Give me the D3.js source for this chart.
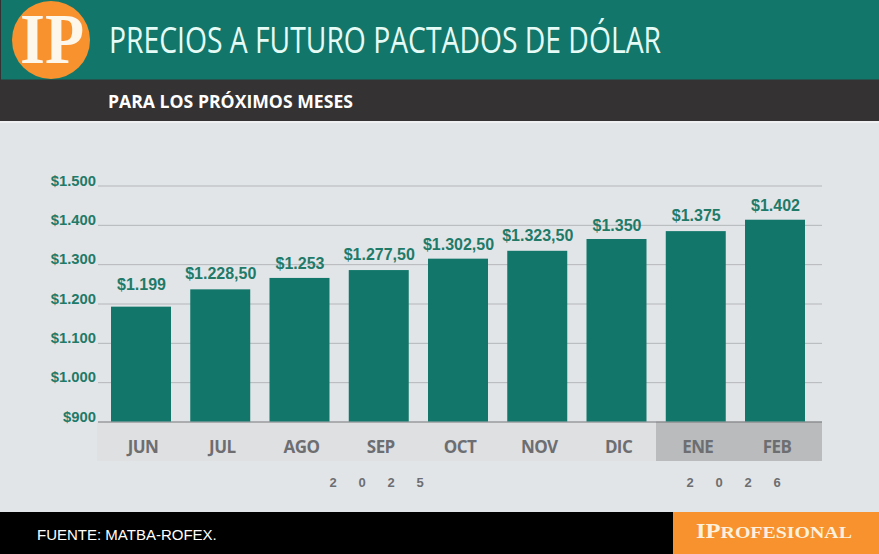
<!DOCTYPE html>
<html>
<head>
<meta charset="utf-8">
<script src="https://cdn.jsdelivr.net/npm/d3@7"></script>
<style>
  html, body { margin: 0; padding: 0; background: #e2e5e8; }
  svg { display: block; }
  .num { font-family: "Liberation Sans", sans-serif; font-weight: 700; }
  .domain { display: none; }
</style>
</head>
<body>
<svg id="chart" width="879" height="554"></svg>
<script>
const months = ['JUN', 'JUL', 'AGO', 'SEP', 'OCT', 'NOV', 'DIC', 'ENE', 'FEB']
// bar heights as drawn in the picture, they sit a bit off the printed prices
const barValues = [1192, 1236, 1265, 1285, 1314, 1334, 1364, 1384, 1413]
const prices = [1199, 1228.5, 1253, 1277.5, 1302.5, 1323.5, 1350, 1375, 1402]
const priceLabels = ['$1.199', '$1.228,50', '$1.253', '$1.277,50', '$1.302,50', '$1.323,50', '$1.350', '$1.375', '$1.402']
const yTicks = [900, 1000, 1100, 1200, 1300, 1400, 1500]
const yTickLabels = ['$900', '$1.000', '$1.100', '$1.200', '$1.300', '$1.400', '$1.500']
const yearDigits2025 = ['2', '0', '2', '5']
const yearDigits2026 = ['2', '0', '2', '6']

const teal = '#12776a'
const labelGreen = '#1f7a68'
const orange = '#f7922e'

const margin = {top: 185.5, bottom: 132.5, left: 111, right: 74}
const width = 879
const height = 554
const labelOffset = 13.5

const svg = d3.select('#chart')

const xScale = d3.scaleBand()
  .domain(months)
  .range([margin.left, width - margin.right])
  .paddingInner(0.243)
  .paddingOuter(0)

const yScale = d3.scaleLinear()
  .domain([900, 1500])
  .range([height - margin.bottom, margin.top])

//background
svg.append('rect').attr('width', width).attr('height', height).attr('fill', '#e2e5e8')

//header
svg.append('rect').attr('width', width).attr('height', 121).attr('fill', '#343233')
svg.append('rect').attr('x', 1).attr('width', width).attr('height', 79.5).attr('fill', teal)
svg.append('rect').attr('y', 121).attr('width', width).attr('height', 2).attr('fill', '#eef0f1')

svg.append('text')
  .attr('x', 109).attr('y', 53)
  .attr('textLength', 552).attr('lengthAdjust', 'spacingAndGlyphs')
  .attr('font-family', 'Open Sans').attr('font-weight', 400).attr('font-size', 36)
  .attr('fill', '#e6fbf6')
  .text('PRECIOS A FUTURO PACTADOS DE DÓLAR')

svg.append('text')
  .attr('x', 108).attr('y', 108)
  .attr('textLength', 245).attr('lengthAdjust', 'spacingAndGlyphs')
  .attr('font-family', 'Open Sans').attr('font-weight', 700).attr('font-size', 18)
  .attr('fill', '#fff')
  .text('PARA LOS PRÓXIMOS MESES')

//logo
svg.append('circle').attr('cx', 51).attr('cy', 40).attr('r', 39).attr('fill', orange)
svg.append('text')
  .attr('x', 20).attr('y', 63)
  .attr('textLength', 64).attr('lengthAdjust', 'spacingAndGlyphs')
  .attr('font-family', 'Liberation Serif').attr('font-weight', 700).attr('font-size', 72)
  .attr('fill', '#fdf6ea')
  .text('IP')

//month strip, 2026 part is darker
const stripBottom = 461
const baseY = yScale(900)
svg.append('rect')
  .attr('x', 97).attr('y', baseY).attr('width', 559).attr('height', stripBottom - baseY)
  .attr('fill', '#dee0e2')
svg.append('rect')
  .attr('x', 656).attr('y', baseY).attr('width', 166).attr('height', stripBottom - baseY)
  .attr('fill', '#b9bbbd')

//grid and y labels
const yAxis = svg.append('g')
  .attr('transform', 'translate(98,0)')
  .call(d3.axisLeft(yScale)
    .tickValues(yTicks)
    .tickSize(-724)
    .tickPadding(2)
    .tickFormat((d, i) => yTickLabels[i]))
yAxis.selectAll('.tick line').attr('stroke', d => d === 900 ? '#77787a' : '#b4b6b8')
yAxis.selectAll('.tick text')
  .attr('class', 'num')
  .attr('y', -5)
  .attr('font-size', 14.8)
  .attr('fill', labelGreen)

//bars
svg.append('g').selectAll('rect')
  .data(months)
  .join('rect')
  .attr('x', d => xScale(d))
  .attr('width', xScale.bandwidth())
  .attr('y', (d, i) => yScale(barValues[i]))
  .attr('height', (d, i) => baseY - yScale(barValues[i]))
  .attr('fill', teal)

//price labels follow the printed price, not the bar top
svg.append('g').selectAll('text')
  .data(months)
  .join('text')
  .attr('class', 'num')
  .attr('x', d => xScale(d) + xScale.bandwidth() / 2 + 0.5)
  .attr('y', (d, i) => yScale(prices[i]) - labelOffset)
  .attr('text-anchor', 'middle')
  .attr('font-size', 16)
  .attr('fill', labelGreen)
  .text((d, i) => priceLabels[i])

//months
const xAxis = svg.append('g')
  .attr('transform', `translate(2,${baseY})`)
  .call(d3.axisBottom(xScale).tickSize(0).tickPadding(19))
xAxis.selectAll('.tick text')
  .attr('font-family', 'Open Sans')
  .attr('font-weight', 700)
  .attr('font-size', 17)
  .attr('letter-spacing', -0.6)
  .attr('fill', '#6d6e71')

//years, each digit on its own slot
const drawYear = (digits, mid) => {
  const slot = d3.scalePoint().domain(d3.range(4)).range([mid - 43.5, mid + 43.5])
  svg.append('g').selectAll('text')
    .data(digits)
    .join('text')
    .attr('class', 'num')
    .attr('x', (d, i) => slot(i))
    .attr('y', 487)
    .attr('text-anchor', 'middle')
    .attr('font-size', 13)
    .attr('fill', '#6d6e71')
    .text(d => d)
}
drawYear(yearDigits2025, 376.5)
drawYear(yearDigits2026, 733.5)

//footer
svg.append('rect').attr('y', 512).attr('width', width).attr('height', 42).attr('fill', '#000')
svg.append('rect').attr('x', 673).attr('y', 512).attr('width', 206).attr('height', 42).attr('fill', orange)
svg.append('text')
  .attr('x', 37).attr('y', 540)
  .attr('font-family', 'Liberation Sans').attr('font-size', 15)
  .attr('fill', '#fff')
  .text('FUENTE: MATBA-ROFEX.')

const brand = svg.append('text')
  .attr('x', 696).attr('y', 538)
  .attr('textLength', 156).attr('lengthAdjust', 'spacingAndGlyphs')
  .attr('font-family', 'Liberation Serif').attr('font-weight', 700).attr('font-size', 21)
  .attr('fill', '#fdf0dc')
brand.append('tspan').text('IP')
brand.append('tspan').attr('font-size', 17).text('ROFESIONAL')
</script>
</body>
</html>
